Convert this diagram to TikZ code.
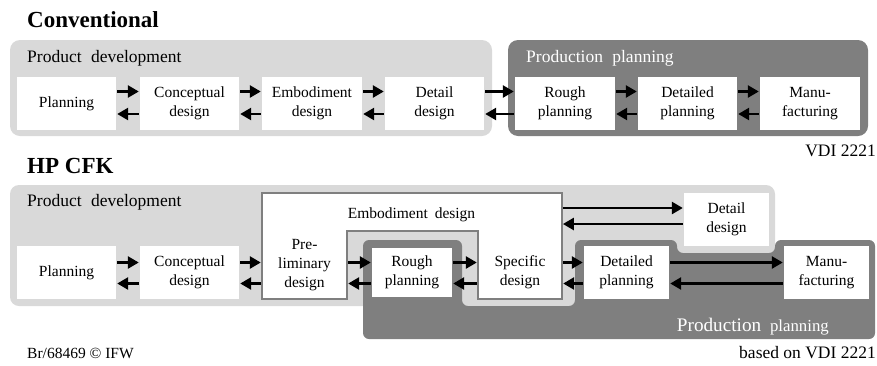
\documentclass[tikz,border=0pt]{standalone}
\usepackage{fontspec}
\setmainfont{Liberation Serif}
\usetikzlibrary{arrows.meta}
\definecolor{lightg}{HTML}{D9D9D9}
\definecolor{darkg}{HTML}{7F7F7F}
\newcommand\diagfont{\fontsize{15.5}{19}\selectfont}
\newcommand\secfont{\fontsize{17.5}{20}\selectfont}
\newcommand\headfont{\fontsize{23}{26}\selectfont\bfseries}
\tikzset{
  box/.style={fill=white, inner sep=0pt, align=center, font=\diagfont},
  txt/.style={inner sep=0pt, align=center, font=\diagfont},
  arr/.style={line width=2.6pt, -{Triangle[length=11pt,width=12pt]}, shorten <=1pt, shorten >=1pt},
  lbl/.style={inner sep=0pt, font=\diagfont},
  sec/.style={inner sep=0pt, font=\secfont},
}
\begin{document}
\begin{tikzpicture}[x=1pt,y=-1pt]
\useasboundingbox (0,0) rectangle (877,365);
% ---------- Conventional ----------
\node[inner sep=0pt, anchor=base west, font=\headfont] (t1) at (27,27) {Conventional};
\fill[lightg, rounded corners=10pt] (10,40) rectangle (492,136);
\fill[darkg, rounded corners=10pt] (508,40) rectangle (868,136);
\node[sec, anchor=base west] (pd1) at (27,62) {Product\hspace{5pt} development};
\node[sec, anchor=base west, text=white] (pp1) at (526,62) {Production\hspace{5pt} planning};
\node[box, minimum width=99pt, minimum height=53pt] (p1) at (66.5,103.5) {Planning};
\node[box, minimum width=99pt, minimum height=53pt] (c1) at (189.5,103.5) {Conceptual\\design};
\node[box, minimum width=100pt, minimum height=53pt] (e1) at (312,103.5) {Embodiment\\design};
\node[box, minimum width=99pt, minimum height=53pt] (d1) at (434.5,103.5) {Detail\\design};
\node[box, minimum width=100pt, minimum height=53pt] (r1) at (565,103.5) {Rough\\planning};
\node[box, minimum width=99pt, minimum height=53pt] (dp1) at (687.5,103.5) {Detailed\\planning};
\node[box, minimum width=100pt, minimum height=53pt] (m1) at (810,103.5) {Manu-\\facturing};
\foreach \a/\b in {p1/c1, c1/e1, e1/d1, d1/r1, r1/dp1, dp1/m1}{
  \draw[arr] (\a.east |- 0,91.5) -- (\b.west |- 0,91.5);
  \draw[arr] (\b.west |- 0,114) -- (\a.east |- 0,114);
}
\node[sec, anchor=base east] (vdi) at (876,156) {VDI 2221};
% ---------- HP CFK ----------
\node[inner sep=0pt, anchor=base west, font=\headfont] (t2) at (27,173) {HP CFK};
\fill[lightg, rounded corners=9pt] (10,185) rectangle (775,306);
\fill[darkg, rounded corners=6pt] (363,339) -- (363,240) -- (462,240) -- (462,306) -- (575,306) -- (575,240) -- (677,240) -- (677,253) -- (775,253) -- (775,240) -- (875,240) -- (875,339) -- cycle;
\node[sec, anchor=base west] (pd2) at (27,206) {Product\hspace{5pt} development};
\node[inner sep=0pt, anchor=base east, text=white] (pp2) at (829,331) {\fontsize{19.2}{22}\selectfont Production\hspace{4pt} \fontsize{16.8}{20}\selectfont planning};
% Embodiment design frame
\draw[darkg, line width=1.3pt, fill=white] (262,193) -- (562,193) -- (562,299) -- (478,299) -- (478,231) -- (347,231) -- (347,299) -- (262,299) -- cycle;
\node[lbl, anchor=base] (emb) at (411.5,218) {Embodiment\hspace{3pt} design};
\node[box, minimum width=99pt, minimum height=53pt] (p2) at (66.5,272.5) {Planning};
\node[box, minimum width=99pt, minimum height=53pt] (c2) at (189.5,272.5) {Conceptual\\design};
\node[txt, minimum width=85pt, minimum height=68pt] (pre) at (304.5,265) {Pre-\\liminary\\design};
\node[box, minimum width=80pt, minimum height=49pt] (r2) at (412,272.5) {Rough\\planning};
\node[txt, minimum width=84pt, minimum height=53pt] (sp) at (520,272.5) {Specific\\design};
\node[box, minimum width=85pt, minimum height=53pt] (dd2) at (726.5,219.5) {Detail\\design};
\node[box, minimum width=85pt, minimum height=53pt] (dpl2) at (626.5,272.5) {Detailed\\planning};
\node[box, minimum width=85pt, minimum height=53pt] (m2) at (826.5,272.5) {Manu-\\facturing};
\foreach \a/\b in {p2/c2, c2/pre, pre/r2, r2/sp, sp/dpl2, dpl2/m2}{
  \draw[arr] (\a.east |- 0,262.5) -- (\b.west |- 0,262.5);
  \draw[arr] (\b.west |- 0,283.5) -- (\a.east |- 0,283.5);
}
\draw[arr, shorten <=0.7pt] (sp.east |- 0,208) -- (dd2.west |- 0,208);
\draw[arr, shorten >=0.7pt] (dd2.west |- 0,224) -- (sp.east |- 0,224);
\node[lbl, anchor=base west] (br) at (27,358) {Br/68469 \textcopyright\ IFW};
\node[sec, anchor=base east] (based) at (876,358) {based on VDI 2221};
\end{tikzpicture}
\end{document}
